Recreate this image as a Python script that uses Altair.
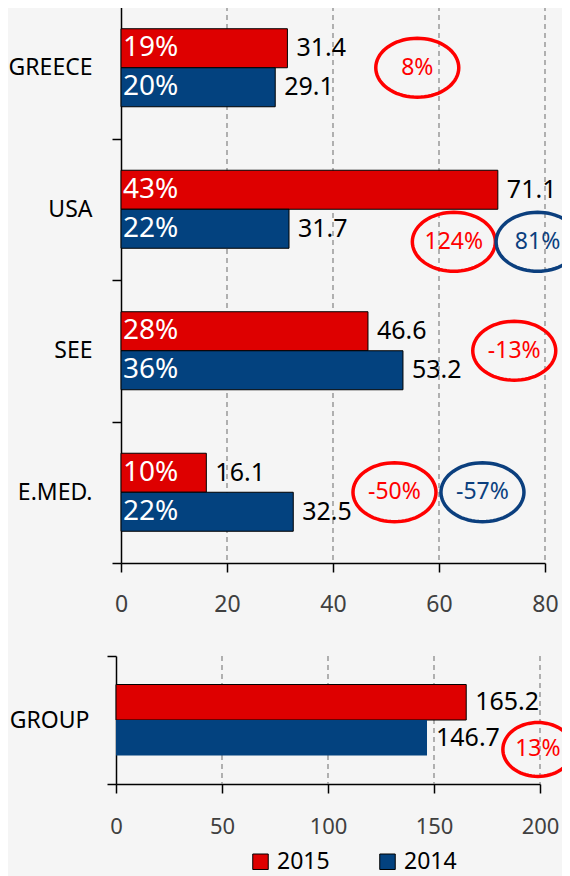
import math
import altair as alt
import pandas as pd

# ---------------- data ----------------
categories = ["GREECE", "USA", "SEE", "E.MED."]
years = ["2015", "2014"]
values_2015 = [31.4, 71.1, 46.6, 16.1]
values_2014 = [29.1, 31.7, 53.2, 32.5]
share_2015 = ["19%", "43%", "28%", "10%"]
share_2014 = ["20%", "22%", "36%", "22%"]

group_category = ["GROUP"]
group_2015 = [165.2]
group_2014 = [146.7]

kinds = ["2015 vs 2014", "2014 vs 2013"]
ann_category = ["GREECE", "USA", "USA", "SEE", "E.MED.", "E.MED."]
ann_text = ["8%", "124%", "81%", "-13%", "-50%", "-57%"]
ann_kind = ["2015 vs 2014", "2015 vs 2014", "2014 vs 2013",
            "2015 vs 2014", "2015 vs 2014", "2014 vs 2013"]
ann_x = [55.9, 62.8, 78.6, 74.2, 51.6, 68.2]
ann_row = ["mid", "low", "low", "mid", "mid", "mid"]

group_ann_category = ["GROUP"]
group_ann_text = ["13%"]
group_ann_kind = ["2015 vs 2014"]
group_ann_x = [199.0]

x_ticks_top = [0, 20, 40, 60, 80]
x_ticks_bottom = [0, 50, 100, 150, 200]

# ---------------- tables ----------------
top_df = pd.DataFrame({
    "category": categories * 2,
    "year": ["2015"] * len(categories) + ["2014"] * len(categories),
    "value": values_2015 + values_2014,
    "share": share_2015 + share_2014,
})
grp_df = pd.DataFrame({
    "category": group_category * 2,
    "year": ["2015", "2014"],
    "value": group_2015 + group_2014,
})
ann_df = pd.DataFrame({
    "category": ann_category, "label": ann_text, "kind": ann_kind,
    "x": ann_x, "row": ann_row,
})
grp_ann_df = pd.DataFrame({
    "category": group_ann_category, "label": group_ann_text,
    "kind": group_ann_kind, "x": group_ann_x,
})

# ---------------- styles ----------------
FONT = "Noto Sans"
RED = "#DE0000"
BLUE = "#03427F"
ELL_RED = "#FF0000"
ELL_BLUE = "#0B3F7E"
W, H = 554, 868


def ellipse_path(ry, n=72):
    pts = []
    for k in range(n):
        t = 2 * math.pi * k / n
        pts.append(f"{math.cos(t):.4f},{ry * math.sin(t):.4f}")
    return "M" + " L".join(pts) + " Z"


ELL_TOP = ellipse_path(0.71)
ELL_GRP = ellipse_path(0.77)

color_scale = alt.Scale(domain=years, range=[RED, BLUE])
kind_scale = alt.Scale(domain=kinds, range=[ELL_RED, ELL_BLUE])

legend = alt.Legend(
    orient="none", legendX=241, legendY=842, direction="horizontal",
    title=None, symbolType="square", symbolSize=240, symbolStrokeWidth=1,
    symbolStrokeColor="black", symbolOpacity=1, labelFontSize=23,
    labelFont=FONT, labelColor="black", columnPadding=46, labelOffset=5,
    padding=0,
)


def make_panel(df, adf, cats, y_range, off_pad, x_domain, x_range, x_vals,
               x_offset, y_offset, ell_shape, ell_size, low_band,
               x_label_pad, x_font, y_label_pad, share=True, stroke_blue=True):
    y_scale = alt.Scale(domain=cats, range=y_range, paddingInner=0,
                        paddingOuter=0)
    x_scale = alt.Scale(domain=x_domain, range=x_range, nice=False, zero=False)
    y_axis = alt.Axis(orient="left", offset=y_offset, tickBand="extent",
                      tickSize=9, tickWidth=1.5, tickColor="black",
                      domainColor="black", domainWidth=1.5,
                      labelPadding=y_label_pad, labelFontSize=23,
                      labelFont=FONT, labelColor="black", grid=False,
                      title=None)
    x_axis = alt.Axis(orient="bottom", offset=x_offset, values=x_vals,
                      tickSize=9, tickWidth=1.5, tickColor="black",
                      domainColor="black", domainWidth=1.5, labelFlush=False,
                      labelPadding=x_label_pad, labelFontSize=x_font,
                      labelFont=FONT, labelColor="#404040", grid=False,
                      title=None)
    yoff = alt.YOffset("year:N", scale=alt.Scale(domain=years, paddingInner=0,
                                                 paddingOuter=off_pad))
    Y = alt.Y("category:N", scale=y_scale, axis=y_axis)
    Ylow = alt.Y("category:N", scale=y_scale, axis=y_axis, bandPosition=low_band)
    X = alt.X("value:Q", scale=x_scale, axis=x_axis)
    XA = alt.X("x:Q", scale=x_scale, axis=x_axis)

    grid_df = pd.DataFrame({"tick": [v for v in x_vals if v != 0]})
    grid = alt.Chart(grid_df).mark_rule(
        color="#8a8a8a", strokeWidth=1.3, strokeDash=[5, 4]
    ).encode(x=alt.X("tick:Q", scale=x_scale, axis=x_axis),
             y=alt.value(y_range[0]), y2=alt.value(y_range[1]))

    enc_stroke = {}
    if not stroke_blue:
        enc_stroke["strokeOpacity"] = alt.condition(
            "datum.year == '2015'", alt.value(1), alt.value(0))
    bars = alt.Chart(df).mark_bar(stroke="black", strokeWidth=1).encode(
        y=Y, yOffset=yoff, x=X,
        color=alt.Color("year:N", scale=color_scale, legend=legend),
        **enc_stroke,
    )
    layers = [grid, bars]
    if share:
        layers.append(
            alt.Chart(df).mark_text(align="left", baseline="middle", dx=2,
                                    fontSize=28, font=FONT, color="white")
            .encode(y=Y, yOffset=yoff,
                    x=alt.X(datum=0, scale=x_scale, axis=x_axis),
                    text="share:N"))
    layers.append(
        alt.Chart(df).mark_text(align="left", baseline="middle", dx=9,
                                fontSize=25, font=FONT, color="black")
        .encode(y=Y, yOffset=yoff, x=X,
                text=alt.Text("value:Q", format=".1f")))

    for row, yy in (("mid", Y), ("low", Ylow)):
        base = alt.Chart(adf)
        if "row" in adf.columns:
            base = base.transform_filter(f"datum.row == '{row}'")
        elif row == "mid":
            continue
        layers.append(
            base.mark_point(shape=ell_shape, size=ell_size, filled=False,
                            strokeWidth=3.5, opacity=1)
            .encode(y=yy, x=XA,
                    stroke=alt.Stroke("kind:N", scale=kind_scale, legend=None)))
        layers.append(
            base.mark_text(align="center", baseline="middle", fontSize=23,
                           font=FONT)
            .encode(y=yy, x=XA, text="label:N",
                    fill=alt.Fill("kind:N", scale=kind_scale, legend=None)))
    return alt.layer(*layers)


top = make_panel(top_df, ann_df, categories, [-11, 555], 0.814,
                 [0, 80], [113, 537], x_ticks_top, 555 - H, -113,
                 ELL_TOP, 6889, 0.73, 21, 23, 20)
bottom = make_panel(grp_df, grp_ann_df, group_category, [648, 776], 0.803,
                    [0, 200], [108, 532], x_ticks_bottom, 776 - H,
                    -108, ELL_GRP, 4900, 0.73, 23, 22, 18, share=False,
                    stroke_blue=False)

chart = (
    alt.layer(top, bottom)
    .resolve_scale(x="independent", y="independent", yOffset="independent")
    .resolve_axis(x="independent", y="independent")
    .properties(width=W, height=H, padding=0,
                autosize=alt.AutoSizeParams(type="none"))
    .configure(background="#F5F5F5")
    .configure_view(strokeOpacity=0)
)

chart.save("out.html", embed_options={"renderer": "svg", "actions": False})
